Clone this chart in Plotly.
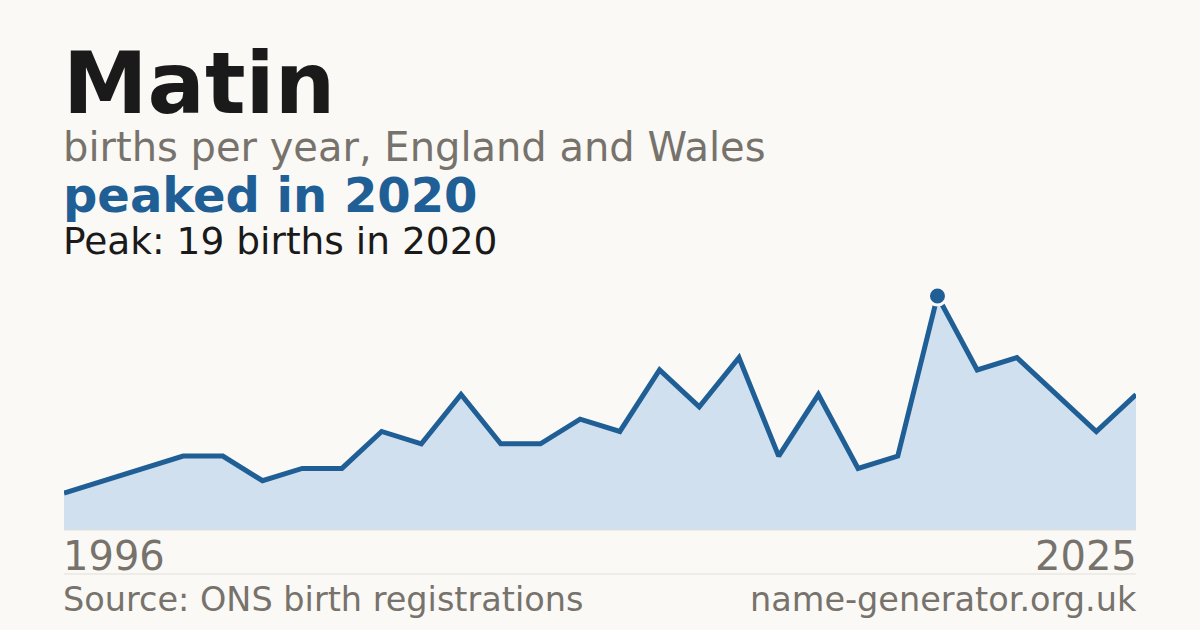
import plotly.graph_objects as go

# Births per year for "Matin", England and Wales (years with too few births are not published)
years = [
    "1996", "1997", "1998", "2000", "2001", "2002", "2003", "2004", "2005", "2006",
    "2007", "2008", "2009", "2010", "2011", "2012", "2013", "2014", "2015", "2016",
    "2017", "2018", "2020", "2021", "2022", "2023", "2024", "2025",
]
births = [3, 4, 5, 6, 6, 4, 5, 5, 8, 7, 11, 7, 7, 9, 8, 13, 10, 14, 6, 11, 5, 6, 19, 13, 14, 11, 8, 11]

name = "Matin"
subtitle = "births per year, England and Wales"
source = "Source: ONS birth registrations"
site = "name-generator.org.uk"

BG = "#faf9f5"
INK = "#1a1a1a"
GREY = "#77736c"
BLUE = "#1f5f96"
FILL = "#d0e0ef"
RULE = "#e2dfd8"
FONT = "DejaVu Sans"

W, H = 1200, 630
LEFT, RIGHT = 61, 1139  # text anchors (annotation padding eats ~3px)

peak_i = births.index(max(births))
peak_year = years[peak_i]


def px(y):
    # pixel row -> paper coordinate
    return 1 - y / H


fig = go.Figure()

fig.add_trace(
    go.Scatter(
        x=years,
        y=births,
        mode="lines",
        line=dict(color=BLUE, width=5),
        fill="tozeroy",
        fillcolor=FILL,
        hoverinfo="x+y",
    )
)
fig.add_trace(
    go.Scatter(
        x=[peak_year],
        y=[births[peak_i]],
        mode="markers",
        marker=dict(color=BLUE, size=18, line=dict(color=BG, width=3)),
        cliponaxis=False,
        hoverinfo="skip",
    )
)

texts = [
    (name, LEFT, 84, 85, INK, True, "left"),
    (subtitle, LEFT, 147, 40, GREY, False, "left"),
    (f"peaked in {peak_year}", LEFT, 195, 48, BLUE, True, "left"),
    (f"Peak: {max(births)} births in {peak_year}", LEFT, 241, 37.5, INK, False, "left"),
    (years[0], LEFT, 556, 40, GREY, False, "left"),
    (years[-1], RIGHT, 556, 40, GREY, False, "right"),
    (source, LEFT, 599, 33.5, GREY, False, "left"),
    (site, RIGHT, 599, 33.5, GREY, False, "right"),
]
for txt, x, y, size, color, bold, anchor in texts:
    fig.add_annotation(
        text=f"<b>{txt}</b>" if bold else txt,
        x=x / W,
        y=px(y),
        xref="paper",
        yref="paper",
        xanchor=anchor,
        yanchor="middle",
        showarrow=False,
        font=dict(family=FONT, size=size, color=color),
    )

# baseline and footer rules
for y in (530, 574):
    fig.add_shape(
        type="line",
        xref="paper",
        yref="paper",
        x0=64 / W,
        x1=1136 / W,
        y0=px(y),
        y1=px(y),
        line=dict(color=RULE, width=1),
    )

fig.update_layout(
    width=W,
    height=H,
    paper_bgcolor=BG,
    plot_bgcolor=BG,
    margin=dict(l=0, r=0, t=0, b=0),
    showlegend=False,
    xaxis=dict(
        type="category",
        range=[0, len(years) - 1],
        domain=[64 / W, 1136 / W],
        showgrid=False,
        zeroline=False,
        showticklabels=False,
        fixedrange=True,
    ),
    yaxis=dict(
        range=[0, max(births)],
        domain=[px(530), px(296)],
        showgrid=False,
        zeroline=False,
        showticklabels=False,
        fixedrange=True,
    ),
)

# drop the default page margin so the figure sits flush in the window
fig.write_html(
    "out.html",
    config={"displayModeBar": False},
    post_script="document.body.style.margin='0';document.body.style.background='%s';" % BG,
)
